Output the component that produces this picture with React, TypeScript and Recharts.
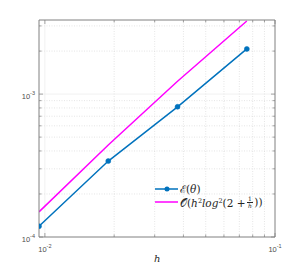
import React from 'react';
import { LineChart, Line, XAxis, YAxis, ReferenceLine } from 'recharts';

const hValues = [0.009428, 0.018856, 0.037712, 0.075425];
const errValues = [1.19e-4, 3.4e-4, 8.15e-4, 2.07e-3];
const refValues = [1.5e-4, 4.4e-4, 1.23e-3, 3.25e-3];

const xDomain: [number, number] = [0.009428, 0.1];
const yDomain: [number, number] = [1e-4, 3.3e-3];
const xMajor = [0.01, 0.1];
const xMinor = [0.02, 0.03, 0.04, 0.05, 0.06, 0.07, 0.08, 0.09];
const yMajor = [1e-4, 1e-3];
const yMinor = [2e-4, 3e-4, 4e-4, 5e-4, 6e-4, 7e-4, 8e-4, 9e-4, 2e-3, 3e-3];
const xTickLabels: Record<string, string> = { '0.01': '-2', '0.1': '-1' };
const yTickLabels: Record<string, string> = { '0.0001': '-4', '0.001': '-3' };

const data = hValues.map((h, i) => ({ h, err: errValues[i], ref: refValues[i] }));

const AX = '#808080';
const LBL = '#4d4d4d';
const isMajor = (v: number, arr: number[]) => arr.some((m) => Math.abs(m - v) / m < 1e-6);

const BottomTick = (props: any) => {
  const { x, y, payload } = props;
  const v = payload.value;
  const major = isMajor(v, xMajor);
  const len = major ? 4 : 2.5;
  const lab = xTickLabels[String(v)];
  return (
    <g>
      <line x1={x} y1={y} x2={x} y2={y - len} stroke={AX} strokeWidth={0.7} />
      {major && lab && (
        <text x={x} y={y + 15} textAnchor="middle" fontSize={7.5} fill={LBL} fontFamily="Liberation Sans, Arial, sans-serif">
          <tspan>10</tspan>
          <tspan dy={-4} fontSize={5.5}>{lab}</tspan>
        </text>
      )}
    </g>
  );
};

const TopTick = (props: any) => {
  const { x, y, payload } = props;
  const major = isMajor(payload.value, xMajor);
  const len = major ? 4 : 2.5;
  return <line x1={x} y1={y} x2={x} y2={y + len} stroke={AX} strokeWidth={0.7} />;
};

const LeftTick = (props: any) => {
  const { x, y, payload } = props;
  const v = payload.value;
  const major = isMajor(v, yMajor);
  const len = major ? 4 : 2.5;
  const lab = yTickLabels[String(v)];
  return (
    <g>
      <line x1={x} y1={y} x2={x + len} y2={y} stroke={AX} strokeWidth={0.7} />
      {major && lab && (
        <text x={x - 4} y={y + 4.5} textAnchor="end" fontSize={7.5} fill={LBL} fontFamily="Liberation Sans, Arial, sans-serif">
          <tspan>10</tspan>
          <tspan dy={-4} fontSize={5.5}>{lab}</tspan>
        </text>
      )}
    </g>
  );
};

const RightTick = (props: any) => {
  const { x, y, payload } = props;
  const major = isMajor(payload.value, yMajor);
  const len = major ? 4 : 2.5;
  return <line x1={x} y1={y} x2={x - len} y2={y} stroke={AX} strokeWidth={0.7} />;
};

const xTicks = [...xMajor, ...xMinor].sort((a, b) => a - b);
const yTicks = [...yMajor, ...yMinor].sort((a, b) => a - b);

const mathFont = '"DejaVu Serif", "Liberation Serif", serif';

export default function App() {
  return (
    <div style={{ position: 'absolute', left: 0, top: 0, width: 304, height: 269, background: '#fff' }}>
      <LineChart width={304} height={269} data={data} margin={{ top: 15, right: 24, bottom: 12, left: 19 }}>
        {xMinor.map((v) => (
          <ReferenceLine key={'xm' + v} xAxisId="b" yAxisId="l" x={v} stroke="#d4d4d4" strokeWidth={0.6} strokeDasharray="1 1.5" />
        ))}
        {yMinor.map((v) => (
          <ReferenceLine key={'ym' + v} xAxisId="b" yAxisId="l" y={v} stroke="#d4d4d4" strokeWidth={0.6} strokeDasharray="1 1.5" />
        ))}
        <ReferenceLine xAxisId="b" yAxisId="l" x={0.01} stroke="#ebebeb" strokeWidth={0.7} />
        <ReferenceLine xAxisId="b" yAxisId="l" y={1e-3} stroke="#ebebeb" strokeWidth={0.7} />
        <XAxis
          dataKey="h"
          type="number"
          scale="log"
          domain={xDomain}
          allowDataOverflow
          ticks={xTicks}
          interval={0}
          height={20}
          tickSize={0}
          tickMargin={0}
          tickLine={false}
          tick={<BottomTick />}
          stroke={AX}
          xAxisId="b"
        />
        <XAxis
          dataKey="h"
          type="number"
          scale="log"
          domain={xDomain}
          allowDataOverflow
          ticks={xTicks}
          interval={0}
          height={5}
          tickSize={0}
          tickMargin={0}
          tickLine={false}
          tick={<TopTick />}
          stroke={AX}
          orientation="top"
          xAxisId="t"
        />
        <YAxis
          type="number"
          scale="log"
          domain={yDomain}
          allowDataOverflow
          ticks={yTicks}
          interval={0}
          width={20}
          tickSize={0}
          tickMargin={0}
          tickLine={false}
          tick={<LeftTick />}
          stroke={AX}
          yAxisId="l"
        />
        <YAxis
          type="number"
          scale="log"
          domain={yDomain}
          allowDataOverflow
          ticks={yTicks}
          interval={0}
          width={5}
          tickSize={0}
          tickMargin={0}
          tickLine={false}
          tick={<RightTick />}
          stroke={AX}
          orientation="right"
          yAxisId="r"
        />
        <Line
          xAxisId="b"
          yAxisId="l"
          dataKey="ref"
          stroke="#FF00FF"
          strokeWidth={1.5}
          dot={false}
          isAnimationActive={false}
        />
        <Line
          xAxisId="b"
          yAxisId="l"
          dataKey="err"
          stroke="#0072BD"
          strokeWidth={1.5}
          dot={{ r: 2.5, fill: '#0072BD', stroke: '#0072BD', strokeWidth: 0.5 }}
          isAnimationActive={false}
        />
      </LineChart>
      <div
        style={{
          position: 'absolute',
          left: 154,
          top: 253,
          fontFamily: mathFont,
          fontStyle: 'italic',
          fontSize: 10,
          color: '#262626',
        }}
      >
        h
      </div>
      <div style={{ position: 'absolute', left: 155, top: 182, fontFamily: mathFont, fontSize: 10.5, color: '#262626', lineHeight: '14px' }}>
        <div style={{ display: 'flex', alignItems: 'center', height: 13 }}>
          <svg width={24} height={10} style={{ marginRight: 1 }}>
            <line x1={0} y1={5} x2={23} y2={5} stroke="#0072BD" strokeWidth={1.5} />
            <circle cx={12} cy={5} r={2.5} fill="#0072BD" />
          </svg>
          <span>
            ℰ(<i>θ</i>)
          </span>
        </div>
        <div style={{ display: 'flex', alignItems: 'center', height: 14 }}>
          <svg width={24} height={10} style={{ marginRight: 1 }}>
            <line x1={0} y1={5} x2={23} y2={5} stroke="#FF00FF" strokeWidth={1.5} />
          </svg>
          <span style={{ display: 'inline-flex', alignItems: 'center', whiteSpace: 'nowrap' }}>
            <span>
              𝒪(<i>h</i>
              <sup style={{ fontSize: 6.5, verticalAlign: 4 }}>2</sup>
              <i>log</i>
              <sup style={{ fontSize: 6.5, verticalAlign: 4 }}>2</sup>(2 + 
            </span>
            <span
              style={{
                display: 'inline-flex',
                flexDirection: 'column',
                alignItems: 'center',
                fontSize: 6,
                lineHeight: '6px',
                margin: '0 1.5px',
              }}
            >
              <span style={{ borderBottom: '0.5px solid #262626', padding: '0 1px' }}>1</span>
              <i>h</i>
            </span>
            <span>))</span>
          </span>
        </div>
      </div>
    </div>
  );
}
